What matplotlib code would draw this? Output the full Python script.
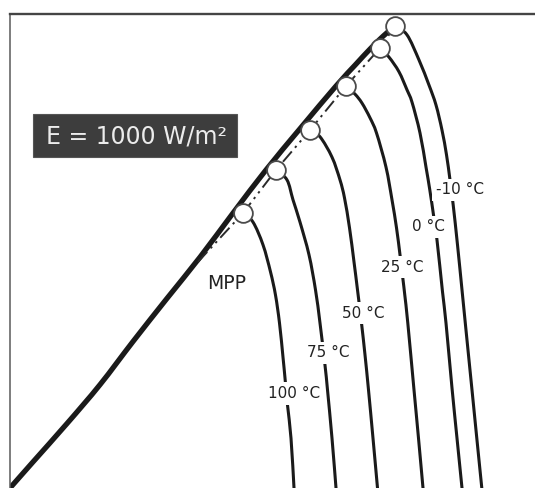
import matplotlib
matplotlib.use("Agg")
import matplotlib.pyplot as plt
from matplotlib.patches import Rectangle, PathPatch
from matplotlib.path import Path

# ---- data (V in volts, P in % of top of axis) ----
# shared rising part of all curves (they overlap up to their MPPs)
env_v = [0, 2.3, 5.7, 9.0, 12.3, 15.7, 19.0, 22.3, 25.6, 29.0, 32.6, 34.5, 36.0, 37.3]
env_p = [0, 5.5, 13.6, 21.8, 30.9, 40.0, 48.7, 58.0, 67.1, 75.8, 84.8, 89.2, 92.6, 95.3]

temperatures = ["-10 °C", "0 °C", "25 °C", "50 °C", "75 °C", "100 °C"]
mpp_v = [38.5, 37.0, 33.6, 30.0, 26.6, 23.3]
mpp_p = [97.5, 92.8, 84.8, 75.5, 67.1, 58.0]

fall_v_m10 = [39.7, 40.9, 41.9, 42.6, 43.2, 43.65, 44.0, 44.32, 44.75, 45.2, 45.6, 46.18, 46.68, 47.18]
fall_p_m10 = [95.6, 90.3, 85.0, 80.8, 75.5, 70.3, 65.0, 59.7, 51.3, 41.8, 33.3, 21.1, 10.5, 0]
fall_v_0 = [37.9, 38.9, 39.7, 40.2, 41.0, 41.6, 41.98, 42.35, 42.7, 43.25, 43.6, 44.2, 44.7, 45.2]
fall_p_0 = [90.9, 87.8, 84.0, 81.4, 74.9, 67.7, 62.9, 57.6, 52.3, 41.4, 34.8, 21.1, 10.5, 0]
fall_v_25 = [34.5, 35.2, 36.0, 36.65, 37.6, 38.2, 38.65, 39.0, 39.28, 39.48, 39.78, 40.4, 40.85, 41.3]
fall_p_25 = [83.1, 81.2, 78.1, 74.9, 67.7, 60.8, 54.9, 49.2, 44.3, 40.7, 34.8, 20.7, 10.5, 0]
fall_v_50 = [31.0, 32.2, 33.0, 33.45, 33.95, 34.4, 34.75, 35.15, 35.5, 35.85, 36.3, 36.75]
fall_p_50 = [74.1, 69.8, 65.0, 61.2, 54.9, 47.7, 41.8, 34.8, 28.1, 20.7, 10.5, 0]
fall_v_75 = [27.7, 28.3, 29.0, 29.9, 30.55, 31.0, 31.5, 31.75, 32.2, 32.6]
fall_p_75 = [65.0, 60.8, 56.1, 49.2, 41.8, 34.8, 25.9, 20.7, 10.5, 0]
fall_v_100 = [24.3, 25.3, 26.05, 26.55, 26.95, 27.3, 27.5, 27.75, 28.1, 28.4]
fall_p_100 = [56.1, 51.3, 45.6, 40.7, 34.8, 27.6, 23.2, 17.5, 10.5, 0]

fall_v = [fall_v_m10, fall_v_0, fall_v_25, fall_v_50, fall_v_75, fall_v_100]
fall_p = [fall_p_m10, fall_p_0, fall_p_25, fall_p_50, fall_p_75, fall_p_100]

label_v = [45.0, 41.8, 39.2, 35.3, 31.8, 28.4]
label_p = [62.9, 55.1, 46.6, 36.9, 28.5, 20.0]

mpp_tail_v = 18.8
mpp_tail_p = 47.7
mpp_label = "MPP"
mpp_label_v = 21.7
mpp_label_p = 43.2

irradiance_text = "E = 1000 W/m²"

# ---- figure ----
W, H = 535, 488
fig = plt.figure(figsize=(W / 100, H / 100), dpi=100)
fig.patch.set_facecolor("white")
ax = fig.add_axes([10 / W, 0, (W - 10) / W, (H - 14) / H])
ax.set_xlim(0, 52.5)
ax.set_ylim(0, 100)
ax.set_xticks([])
ax.set_yticks([])
for s in ("right", "bottom"):
    ax.spines[s].set_visible(False)
ax.spines["left"].set_color("#5a5a5a")
ax.spines["left"].set_linewidth(1.1)
ax.spines["top"].set_color("#444444")
ax.spines["top"].set_linewidth(1.7)

line_color = "#1a1a1a"


def smooth_path(xs, ys):
    """Catmull-Rom spline through the given points, drawn as a Bezier path."""
    pts = list(zip(xs, ys))
    n = len(pts)
    verts = [pts[0]]
    codes = [Path.MOVETO]
    for i in range(n - 1):
        p0 = pts[i - 1] if i > 0 else pts[i]
        p1 = pts[i]
        p2 = pts[i + 1]
        p3 = pts[i + 2] if i + 2 < n else pts[i + 1]
        c1 = (p1[0] + (p2[0] - p0[0]) / 6, p1[1] + (p2[1] - p0[1]) / 6)
        c2 = (p2[0] - (p3[0] - p1[0]) / 6, p2[1] - (p3[1] - p1[1]) / 6)
        verts += [c1, c2, p2]
        codes += [Path.CURVE4] * 3
    return Path(verts, codes)


def draw(xs, ys, lw, z=2):
    ax.add_patch(PathPatch(smooth_path(xs, ys), fill=False, edgecolor=line_color,
                           lw=lw, capstyle="round", joinstyle="round", zorder=z))


# shared rising part (several overlapping curves -> thicker band)
draw(env_v + [mpp_v[0]], env_p + [mpp_p[0]], 3.8)

# falling part of each curve after its MPP
for i in range(len(temperatures)):
    draw([mpp_v[i]] + fall_v[i], [mpp_p[i]] + fall_p[i], 2.2)

# MPP locus (dash-dot-dot)
ax.plot([mpp_tail_v] + mpp_v[::-1], [mpp_tail_p] + mpp_p[::-1], color="#2a2a2a",
        lw=1.4, linestyle=(0, (7, 2.5, 1.2, 2.5, 1.2, 2.5)), zorder=3)

# MPP circles
ax.plot(mpp_v, mpp_p, linestyle="none", marker="o", markersize=13.5,
        markerfacecolor="white", markeredgecolor="#4a4a4a", markeredgewidth=1.3,
        zorder=4)

# temperature labels
for t, lv, lp in zip(temperatures, label_v, label_p):
    ax.text(lv, lp, t, ha="center", va="center", fontsize=11, color="#222222",
            family="DejaVu Sans", zorder=5,
            bbox=dict(boxstyle="square,pad=0.25", fc="white", ec="none"))

ax.text(mpp_label_v, mpp_label_p, mpp_label, ha="center", va="center",
        fontsize=13.5, color="#222222", zorder=5)

# irradiance box
fig.patches.append(Rectangle((33 / W, 1 - 157 / H), 204 / W, 43 / H,
                             transform=fig.transFigure, facecolor="#3d3d3d",
                             edgecolor="#555555", lw=0.8, zorder=6))
fig.text(136 / W, 1 - 136 / H, irradiance_text, ha="center", va="center",
         fontsize=17, color="#ececec", zorder=7)

fig.savefig("out.png", dpi=100, facecolor="white")
